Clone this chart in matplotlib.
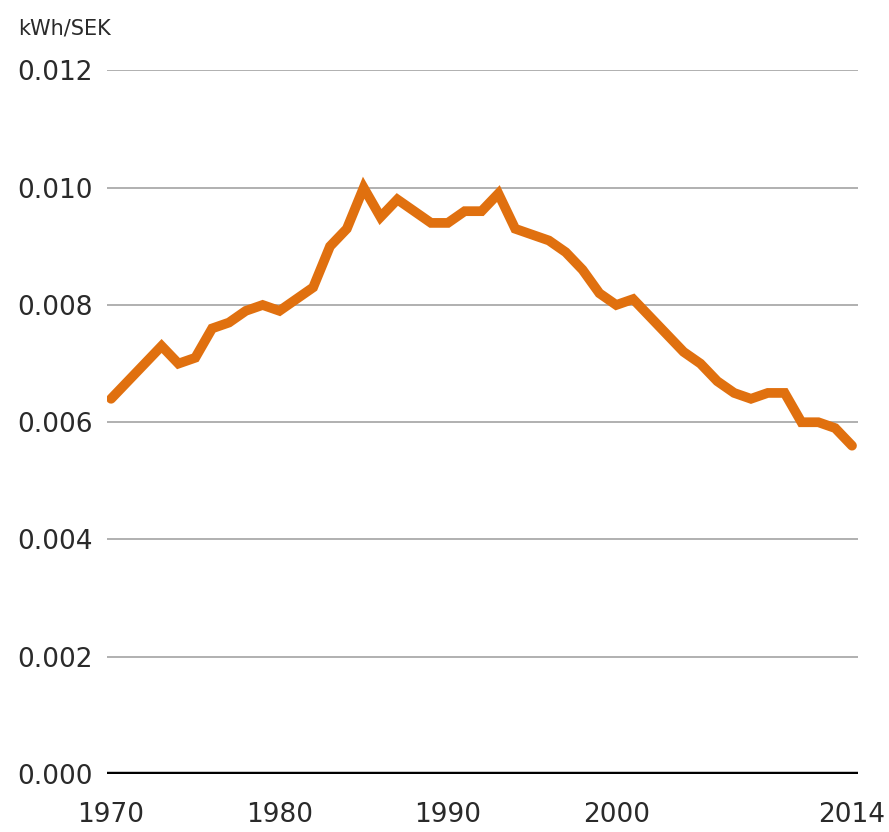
import matplotlib
matplotlib.use("Agg")
import matplotlib.pyplot as plt

# kWh/SEK, 1970-2014
years = list(range(1970, 2015))
intensity = [0.0064, 0.0067, 0.0070, 0.0073, 0.0070, 0.0071, 0.0076, 0.0077,
             0.0079, 0.0080, 0.0079, 0.0081, 0.0083, 0.0090, 0.0093, 0.0100,
             0.0095, 0.0098, 0.0096, 0.0094, 0.0094, 0.0096, 0.0096, 0.0099,
             0.0093, 0.0092, 0.0091, 0.0089, 0.0086, 0.0082, 0.0080, 0.0081,
             0.0078, 0.0075, 0.0072, 0.0070, 0.0067, 0.0065, 0.0064, 0.0065,
             0.0065, 0.0060, 0.0060, 0.0059, 0.0056]

yticks = [0.000, 0.002, 0.004, 0.006, 0.008, 0.010, 0.012]
xticks = [1970, 1980, 1990, 2000, 2014]

fig = plt.figure(figsize=(8.89, 8.32), dpi=100)
ax = fig.add_axes([0.1204, 0.0697, 0.8448, 0.8456])

for t in yticks[1:]:
    ax.axhline(t, color='#aaaaaa', linewidth=1.3, zorder=1)
ax.axhline(0, color='black', linewidth=3.2, zorder=3)

ax.plot(years, intensity, color='#E0700F', linewidth=7,
        solid_joinstyle='miter', solid_capstyle='round', zorder=2)

ax.set_xlim(1969.76, 2014.36)
ax.set_ylim(0, 0.012)
ax.set_yticks(yticks)
ax.set_yticklabels([f'{t:.3f}' for t in yticks])
ax.set_xticks(xticks)
ax.tick_params(axis='both', length=0, labelsize=19, colors='#2a2a2a')
ax.tick_params(axis='y', pad=10)
ax.tick_params(axis='x', pad=20)
for s in ax.spines.values():
    s.set_visible(False)

fig.text(18 / 889, 1 - 34 / 832, 'kWh/SEK', fontsize=15, color='#2a2a2a',
         va='baseline', ha='left')

fig.savefig('out.png', dpi=100, facecolor='white')
